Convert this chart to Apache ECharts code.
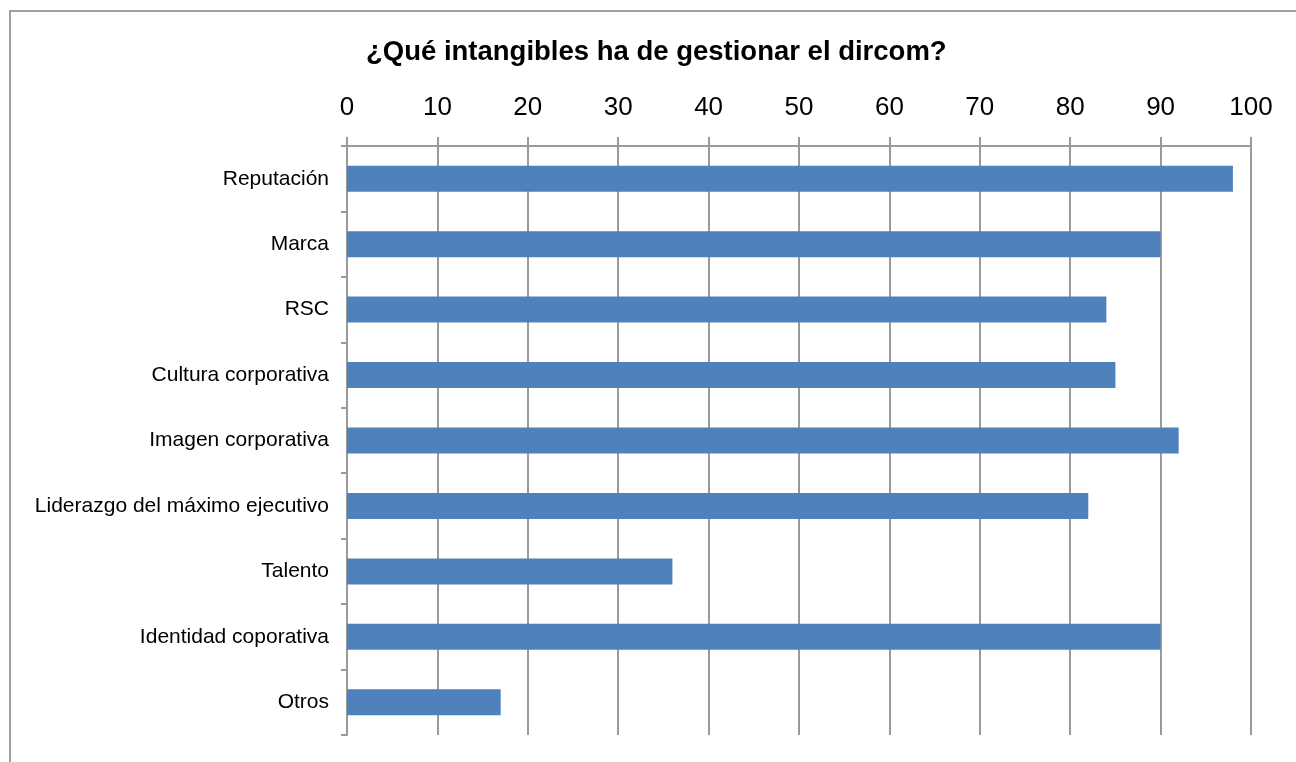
<!DOCTYPE html>
<html>
<head>
<meta charset="utf-8">
<script src="https://cdn.jsdelivr.net/npm/echarts@6/dist/echarts.min.js"></script>
<style>
  * { margin: 0; padding: 0; }
  body { background: #ffffff; }
  #frame {
    position: absolute;
    left: 9px;
    top: 10px;
    width: 1400px;
    height: 900px;
    border-left: 2px solid #a0a0a0;
    border-top: 2px solid #a0a0a0;
  }
  #chart {
    position: absolute;
    left: 0;
    top: 0;
    width: 1296px;
    height: 762px;
  }
</style>
</head>
<body>
<div id="frame"></div>
<div id="chart"></div>
<script>
// categorias y porcentajes
const categories = [
  "Reputación",
  "Marca",
  "RSC",
  "Cultura corporativa",
  "Imagen corporativa",
  "Liderazgo del máximo ejecutivo",
  "Talento",
  "Identidad coporativa",
  "Otros",
];
const values = [98, 90, 84, 85, 92, 82, 36, 90, 17];
const titleText = "¿Qué intangibles ha de gestionar el dircom?";

const myChart = echarts.init(document.getElementById("chart"), null, {
  width: 1296,
  height: 762,
});

const gridColor = "#9a9a9a";

const option = {
  animation: false,
  title: {
    text: titleText,
    left: 366,
    top: 38,
    padding: 0,
    textStyle: {
      fontFamily: "Liberation Sans",
      fontSize: 27.5,
      fontWeight: "bold",
      color: "#000000",
    },
  },
  grid: {
    left: 347,
    right: 45,
    top: 146,
    bottom: 27,
    containLabel: false,
  },
  xAxis: {
    type: "value",
    position: "top",
    min: 0,
    max: 100,
    interval: 10,
    axisLine: { show: true, lineStyle: { color: gridColor, width: 2 } },
    axisTick: { show: true, length: 9, lineStyle: { color: gridColor, width: 2 } },
    axisLabel: {
      margin: 25,
      fontFamily: "Liberation Sans",
      fontSize: 26,
      color: "#000000",
    },
    splitLine: { show: true, lineStyle: { color: gridColor, width: 2 } },
  },
  yAxis: {
    type: "category",
    inverse: true,
    data: categories,
    axisLine: { show: true, lineStyle: { color: gridColor, width: 2 } },
    axisTick: { show: true, length: 6, lineStyle: { color: gridColor, width: 2 } },
    axisLabel: {
      margin: 18,
      fontFamily: "Liberation Sans",
      fontSize: 21,
      color: "#000000",
    },
  },
  series: [
    {
      type: "bar",
      data: values,
      barWidth: 26,
      itemStyle: { color: "#4f81bd" },
    },
  ],
};

myChart.setOption(option);
</script>
</body>
</html>
